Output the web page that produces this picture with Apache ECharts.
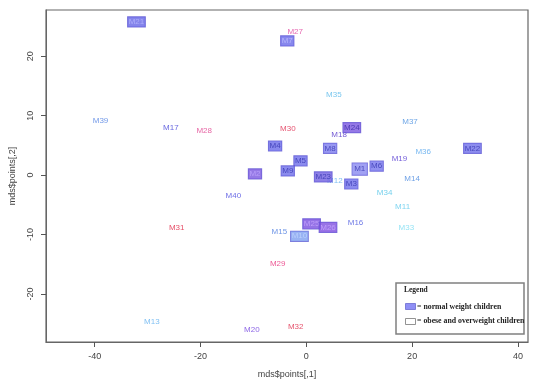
<!DOCTYPE html>
<html>
<head>
<meta charset="utf-8">
<script src="https://cdn.jsdelivr.net/npm/echarts@6/dist/echarts.min.js"></script>
<style>
html,body{margin:0;padding:0;background:#fff;}
#chart{width:534px;height:385px;}
</style>
</head>
<body>
<div id="chart"></div>
<script>
// ---- data ----
const names = ['M21','M27','M7','M39','M17','M28','M30','M35','M24','M18','M37','M4','M8','M22','M36','M19','M5','M6','M1','M9','M2','M23','M12','M3','M14','M34','M40','M11','M33','M16','M25','M26','M15','M10','M31','M29','M13','M20','M32'];
const xs = [-32.1,-2.1,-3.6,-38.9,-25.6,-19.3,-3.5,5.2,8.6,6.2,19.6,-5.9,4.5,31.4,22.1,17.6,-1.1,13.3,10.1,-3.5,-9.7,3.2,5.4,8.5,20.0,14.8,-13.8,18.2,18.9,9.3,1.0,4.1,-5.1,-1.3,-24.5,-5.4,-29.2,-10.3,-2.0];
const ys = [25.8,24.1,22.6,9.1,7.9,7.4,7.8,13.6,8.0,6.8,8.9,4.9,4.5,4.5,3.9,2.8,2.4,1.5,1.0,0.7,0.2,-0.3,-1.0,-1.5,-0.6,-2.9,-3.4,-5.3,-8.8,-8.1,-8.2,-8.8,-9.5,-10.3,-8.9,-15.0,-24.7,-26.1,-25.5];
// 1 = normal weight children (boxed), 0 = obese and overweight children
const normalWeight = [1,0,1,0,0,0,0,0,1,0,0,1,1,1,0,0,1,1,1,1,1,1,0,1,0,0,0,0,0,0,1,1,0,1,0,0,0,0,0];
const xTicks = [-40,-20,0,20,40];
const yTicks = [-20,-10,0,10,20];
const xTitle = 'mds$points[,1]';
const yTitle = 'mds$points[,2]';
const legendTitle = 'Legend';
const legendItems = ['= normal weight children','= obese and overweight children'];

// ---- styles ----
const textColor = {
  M27:'#e0409c', M39:'#4f80e2', M17:'#4242d8', M28:'#e03c8c', M30:'#e0284c', M35:'#58b8ea',
  M18:'#5030c8', M37:'#4a90e0', M36:'#58a8ee', M19:'#5034d0', M12:'#60b0f0', M14:'#4a8ae0',
  M34:'#50c4e8', M40:'#4a4ae0', M11:'#60cbee', M33:'#78dcf2', M16:'#4a58e0', M15:'#4a7ae0',
  M31:'#e02040', M29:'#e8307a', M13:'#60b0f0', M20:'#7040e0', M32:'#e02848'
};
const boxFill = {
  M21:'#6666e6', M7:'#6a6ae8', M24:'#7a58e0', M4:'#6a6ae8', M8:'#7d7dee', M22:'#7070ea',
  M5:'#6e6ee8', M6:'#7676ec', M1:'#8a8af0', M9:'#6e6ee8', M2:'#7a58e0', M23:'#7060e0',
  M3:'#6e6eea', M25:'#7a50e0', M26:'#8050e0', M10:'#80a0f0'
};
const boxText = {
  M21:'#b8b8ff', M7:'#c0c0ff', M25:'#c8a8ff', M26:'#c8a8ff', M10:'#c0d4ff', M2:'#c0a8ff', M24:'#3a2aa8'
};

const FONT = '"Liberation Sans", Arial, sans-serif';
const SERIF = '"Liberation Serif", "Times New Roman", serif';

const boxed = [], plain = [];
names.forEach((n,i)=>{
  if (normalWeight[i]) {
    boxed.push({
      name:n, value:[xs[i],ys[i]],
      label:{
        color: boxText[n] || '#3434b0',
        backgroundColor: boxFill[n] || '#6e6ee8',
        borderColor: '#5a52d0', borderWidth: 0.6,
        padding: n==='M1' ? [2,2,1,2] : [1,1,0,1]
      }
    });
  } else {
    plain.push({ name:n, value:[xs[i],ys[i]], label:{ color: textColor[n] || '#4a7ae0' } });
  }
});

const labelBase = { show:true, position:'inside', formatter:'{b}', fontFamily:FONT, fontSize:8, lineHeight:9 };

const chart = echarts.init(document.getElementById('chart'), null, {renderer:'canvas'});
chart.setOption({
  animation:false,
  backgroundColor:'#fff',
  grid:{ left:41, right:6, top:10, bottom:43, show:true, borderColor:'#666', borderWidth:1.2, backgroundColor:'transparent' },
  xAxis:{
    type:'value', min:-49.2, max:41.9,
    name:xTitle, nameLocation:'middle', nameGap:28,
    nameTextStyle:{ fontFamily:FONT, fontSize:9, color:'#444' },
    splitLine:{show:false},
    axisLine:{ show:true, onZero:false, lineStyle:{ color:'#666', width:1 } },
    axisTick:{ show:true, inside:false, length:5, lineStyle:{color:'#555'}, customValues:xTicks },
    axisLabel:{ fontFamily:FONT, fontSize:9, color:'#444', margin:10, customValues:xTicks }
  },
  yAxis:{
    type:'value', min:-28.1, max:27.8,
    name:yTitle, nameLocation:'middle', nameGap:29,
    nameTextStyle:{ fontFamily:FONT, fontSize:9, color:'#444' },
    splitLine:{show:false},
    axisLine:{ show:true, onZero:false, lineStyle:{ color:'#666', width:1 } },
    axisTick:{ show:true, inside:false, length:5, lineStyle:{color:'#555'}, customValues:yTicks },
    axisLabel:{ fontFamily:FONT, fontSize:9, color:'#444', margin:11, rotate:90, customValues:yTicks }
  },
  series:[
    { type:'scatter', name:'obese', symbolSize:1, itemStyle:{color:'transparent'}, label:labelBase, data:plain, z:2 },
    { type:'scatter', name:'normal', symbolSize:1, itemStyle:{color:'transparent'}, label:labelBase, data:boxed, z:3 }
  ],
  graphic:[
    { type:'rect', shape:{x:396, y:283, width:128, height:51}, style:{ fill:'#fff', stroke:'#808080', lineWidth:1.5 }, z:10 },
    { type:'text', x:404, y:286, style:{ text:legendTitle, font:'bold 7.5px '+SERIF, fill:'#222' }, z:11 },
    { type:'rect', shape:{x:405.5, y:303.5, width:10, height:6}, style:{ fill:'#8f8ff5', stroke:'#6a6ad0', lineWidth:0.8 }, z:11 },
    { type:'text', x:417, y:302.5, style:{ text:legendItems[0], font:'bold 7.8px '+SERIF, fill:'#222' }, z:11 },
    { type:'rect', shape:{x:405.5, y:318.5, width:10, height:6}, style:{ fill:'#fff', stroke:'#777', lineWidth:0.8 }, z:11 },
    { type:'text', x:417, y:316.5, style:{ text:legendItems[1], font:'bold 7.8px '+SERIF, fill:'#222' }, z:11 }
  ]
});
</script>
</body>
</html>
